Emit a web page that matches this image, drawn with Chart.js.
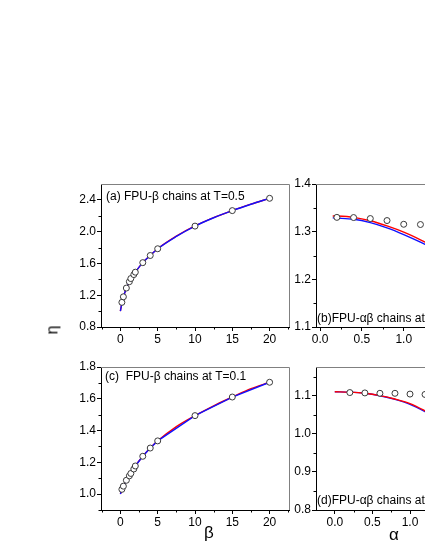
<!DOCTYPE html>
<html>
<head>
<meta charset="utf-8">
<script src="https://cdn.jsdelivr.net/npm/chart.js@4"></script>
<style>
  html, body { margin: 0; padding: 0; width: 425px; height: 550px; overflow: hidden; background: #fff; }
  canvas { position: absolute; }
  .lbl { position: absolute; font-family: "Liberation Sans", Arial, sans-serif; color: #000; line-height: 1; }
</style>
</head>
<body>
<canvas id="pa"></canvas>
<canvas id="pb"></canvas>
<canvas id="pc"></canvas>
<canvas id="pd"></canvas>
<div class="lbl" style="left:48px;top:322px;font-size:16px;transform:rotate(-90deg);">η</div>
<div class="lbl" style="left:204px;top:524px;font-size:17px;">β</div>
<div class="lbl" style="left:389px;top:526px;font-size:17px;">α</div>
<script>
// tick values
var betaTicks = [0, 5, 10, 15, 20];
var betaMinor = [-2.5, 2.5, 7.5, 12.5, 17.5, 22.5];
var alphaTicks = [0, 0.5, 1.0, 1.5, 2.0];
var alphaMinor = [0.25, 0.75, 1.25, 1.75];
var etaTicksA = [0.8, 1.2, 1.6, 2.0, 2.4];
var etaMinorA = [1.0, 1.4, 1.8, 2.2];
var etaTicksB = [1.1, 1.2, 1.3, 1.4];
var etaMinorB = [1.15, 1.25, 1.35];
var etaTicksC = [1.0, 1.2, 1.4, 1.6, 1.8];
var etaMinorC = [0.9, 1.1, 1.3, 1.5, 1.7];
var etaTicksD = [0.8, 0.9, 1.0, 1.1];
var etaMinorD = [0.85, 0.95, 1.05, 1.15];

// (a) FPU-beta, T=0.5
var betaPts = [0.2, 0.4, 0.8, 1.2, 1.4, 1.8, 2, 3, 4, 5, 10, 15, 20];
var etaPtsA = [1.11, 1.18, 1.29, 1.37, 1.41, 1.46, 1.49, 1.61, 1.70, 1.785, 2.07, 2.265, 2.42];
var betaLineA = [0, 0.2, 0.5, 1, 1.5, 2, 3, 4, 5, 7.5, 10, 12.5, 15, 17.5, 20];
var etaBlueA = [1.0, 1.10, 1.21, 1.33, 1.42, 1.49, 1.61, 1.70, 1.785, 1.94, 2.07, 2.175, 2.265, 2.345, 2.42];
var etaRedA = [1.0, 1.10, 1.21, 1.33, 1.42, 1.49, 1.61, 1.70, 1.785, 1.943, 2.072, 2.177, 2.266, 2.346, 2.42];

// (c) FPU-beta, T=0.1
var etaPtsC = [1.03, 1.05, 1.087, 1.115, 1.13, 1.158, 1.177, 1.238, 1.29, 1.335, 1.494, 1.611, 1.704];
var betaLineC = [0, 0.4, 1, 2, 3, 4, 5, 10, 15, 20];
var etaBlueC = [1.0, 1.05, 1.10, 1.177, 1.238, 1.29, 1.335, 1.494, 1.611, 1.704];
var betaRedC = [0, 0.4, 1, 2, 3, 4, 5, 7.5, 10, 12.5, 15, 17.5, 20];
var etaRedC = [1.0, 1.05, 1.10, 1.177, 1.238, 1.29, 1.335, 1.425, 1.494, 1.556, 1.611, 1.664, 1.704];

// (b) FPU-alpha-beta, T=0.5
var alphaPtsB = [0.2, 0.4, 0.6, 0.8, 1.0, 1.2];
var etaPtsB = [1.330, 1.3296, 1.3275, 1.3233, 1.3155, 1.315];
var alphaLineB = [0.15, 0.2, 0.4, 0.6, 0.8, 1.0, 1.2, 1.4];
var etaRedB = [1.333, 1.3328, 1.330, 1.323, 1.312, 1.299, 1.283, 1.265];
var etaBlueB = [1.329, 1.3285, 1.326, 1.319, 1.308, 1.294, 1.278, 1.260];

// (d) FPU-alpha-beta, T=0.1
var alphaPtsD = [0.2, 0.4, 0.6, 0.8, 1.0, 1.2];
var etaPtsD = [1.108, 1.107, 1.106, 1.106, 1.104, 1.103];
var alphaLineD = [0, 0.2, 0.4, 0.6, 0.8, 1.0, 1.2, 1.4];
var etaRedD = [1.110, 1.109, 1.106, 1.100, 1.091, 1.079, 1.060, 1.038];
var etaBlueD = [1.110, 1.109, 1.106, 1.0995, 1.090, 1.077, 1.058, 1.036];

var FONT = '"Liberation Sans", Arial, sans-serif';

function zip(xs, ys) {
  return xs.map(function (x, i) { return { x: x, y: ys[i] }; });
}
function circles(xs, ys) {
  return { data: zip(xs, ys), showLine: false, pointRadius: 3, pointBorderWidth: 1,
           pointBackgroundColor: '#fff', pointBorderColor: '#3a3a3a' };
}
function curve(xs, ys, color, smooth) {
  return { data: zip(xs, ys), showLine: true, pointRadius: 0, borderColor: color, borderWidth: 1.4,
           cubicInterpolationMode: smooth ? 'monotone' : 'default', tension: 0 };
}

// minor ticks, grey top/right frame and the panel note
var decor = {
  id: 'decor',
  afterDraw: function (chart, args, o) {
    var c = chart.ctx, a = chart.chartArea, sx = chart.scales.x, sy = chart.scales.y;
    c.save();
    c.strokeStyle = '#808080';
    c.lineWidth = 1;
    c.beginPath();
    c.moveTo(a.left, a.top + 0.5);
    c.lineTo(a.right + 0.5, a.top + 0.5);
    c.lineTo(a.right + 0.5, a.bottom);
    c.stroke();
    c.strokeStyle = '#000';
    c.beginPath();
    o.xMinor.forEach(function (v) {
      var x = Math.round(sx.getPixelForValue(v)) + 0.5;
      c.moveTo(x, a.bottom); c.lineTo(x, a.bottom + 2.5);
    });
    o.yMinor.forEach(function (v) {
      var y = Math.round(sy.getPixelForValue(v)) + 0.5;
      c.moveTo(a.left, y); c.lineTo(a.left - 2.5, y);
    });
    c.stroke();
    c.fillStyle = '#000';
    c.font = '12px ' + FONT;
    c.textBaseline = 'middle';
    c.fillText(o.note, a.left + o.nx, o.ny < 0 ? a.bottom + o.ny : a.top + o.ny);
    c.restore();
  }
};

function panel(id, box, xr, yr, xt, yt, xm, ym, dec, datasets, note, nx, ny) {
  var padL = 45, padT = 10, padR = 10, padB = 30;
  var cv = document.getElementById(id);
  cv.width = box[2] - box[0] + padL + padR;
  cv.height = box[3] - box[1] + padT + padB;
  cv.style.left = (box[0] - padL) + 'px';
  cv.style.top = (box[1] - padT) + 'px';
  var tickFont = { family: FONT, size: 12 };
  return new Chart(cv.getContext('2d'), {
    type: 'scatter',
    data: { datasets: datasets },
    options: {
      responsive: false,
      animation: false,
      events: [],
      layout: { padding: { left: 0, top: padT, right: padR, bottom: 0 } },
      plugins: {
        legend: { display: false },
        tooltip: { enabled: false },
        decor: { xMinor: xm, yMinor: ym, note: note, nx: nx, ny: ny }
      },
      scales: {
        x: {
          type: 'linear', min: xr[0], max: xr[1],
          afterFit: function (s) { s.height = padB; },
          afterBuildTicks: function (s) { s.ticks = xt.map(function (v) { return { value: v }; }); },
          ticks: { autoSkip: false, maxRotation: 0, padding: 1, color: '#000', font: tickFont,
                   callback: function (v) { return dec[0] ? v.toFixed(dec[0]) : String(v); } },
          grid: { drawOnChartArea: false, tickLength: 4, tickColor: '#000' },
          border: { color: '#000', width: 1 }
        },
        y: {
          type: 'linear', min: yr[0], max: yr[1],
          afterFit: function (s) { s.width = padL; },
          afterBuildTicks: function (s) { s.ticks = yt.map(function (v) { return { value: v }; }); },
          ticks: { autoSkip: false, padding: 1, color: '#000', font: tickFont,
                   callback: function (v) { return v.toFixed(dec[1]); } },
          grid: { drawOnChartArea: false, tickLength: 4, tickColor: '#000' },
          border: { color: '#000', width: 1 }
        }
      }
    },
    plugins: [decor]
  });
}

panel('pa', [101, 184, 289, 327], [-2.6, 22.6], [0.8, 2.6], betaTicks, etaTicksA, betaMinor, etaMinorA, [0, 1],
  [circles(betaPts, etaPtsA), curve(betaLineA, etaBlueA, '#1010ff', true), curve(betaLineA, etaRedA, '#ff0000', true)],
  '(a) FPU-\u03b2 chains at T=0.5', 5, 13);

panel('pc', [101, 367, 289, 510], [-2.6, 22.6], [0.9, 1.8], betaTicks, etaTicksC, betaMinor, etaMinorC, [0, 1],
  [circles(betaPts, etaPtsC), curve(betaLineC, etaBlueC, '#1010ff', false), curve(betaRedC, etaRedC, '#ff0000', true)],
  '(c)  FPU-\u03b2 chains at T=0.1', 4, 10);

panel('pb', [316, 184, 504, 327], [-0.05, 2.2], [1.1, 1.4], alphaTicks, etaTicksB, alphaMinor, etaMinorB, [1, 1],
  [circles(alphaPtsB, etaPtsB), curve(alphaLineB, etaRedB, '#ff0000', true), curve(alphaLineB, etaBlueB, '#1010ff', true)],
  '(b)FPU-\u03b1\u03b2 chains at T=0.5', 1, -8);

panel('pd', [316, 367, 504, 510], [-0.25, 2.25], [0.8, 1.175], alphaTicks, etaTicksD, alphaMinor, etaMinorD, [1, 1],
  [circles(alphaPtsD, etaPtsD), curve(alphaLineD, etaRedD, '#ff0000', true), curve(alphaLineD, etaBlueD, '#1010ff', true)],
  '(d)FPU-\u03b1\u03b2 chains at T=0.1', 1, -9);
</script>
</body>
</html>
